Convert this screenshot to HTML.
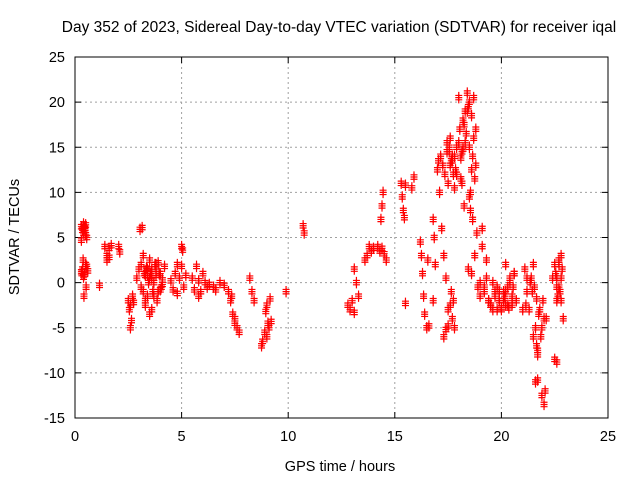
<!DOCTYPE html>
<html><head><meta charset="utf-8"><style>
body{margin:0;background:#fff}
svg{display:block;font-family:"Liberation Sans",sans-serif}
</style></head><body>
<svg id="c" width="640" height="480">
<text x="339" y="32" font-size="15.5" text-anchor="middle">Day 352 of 2023, Sidereal Day-to-day VTEC variation (SDTVAR) for receiver iqal</text>
<text x="340" y="471" font-size="14.5" text-anchor="middle">GPS time / hours</text>
<text transform="translate(19,237) rotate(-90)" font-size="14.5" text-anchor="middle">SDTVAR / TECUs</text>
<g id="grid"></g>
<g id="ticks"></g>
<g id="pts"></g>
<rect x="75" y="57" width="533" height="361" fill="none" stroke="#000" stroke-width="1"/>
</svg>
<script>
const xTicks=[0,5,10,15,20,25];
const yTicks=[-15,-10,-5,0,5,10,15,20,25];
const hours=[0.3,0.35,0.4,0.45,0.5,0.55,0.3,0.4,0.5,0.35,0.45,0.55,0.3,0.4,0.5,0.6,1.15,1.4,1.5,1.6,1.7,1.5,1.6,2.05,2.1,2.5,2.55,2.6,2.65,2.7,2.6,2.75,2.9,3.0,3.1,3.2,3.3,3.4,3.5,3.6,3.7,3.8,3.9,4.0,4.1,4.2,3.1,3.3,3.5,3.7,3.9,4.1,3.2,3.4,3.6,3.8,3.5,3.4,4.5,4.6,4.7,4.8,4.9,5.0,5.1,5.2,4.8,5.0,5.05,5.5,5.6,5.7,5.8,5.9,6.0,6.1,6.2,6.3,5.8,6.5,6.6,6.8,7.0,7.2,7.3,7.4,7.5,7.6,7.7,7.5,7.35,8.2,8.3,8.4,8.8,8.9,9.0,9.1,9.2,8.75,9.05,9.9,10.7,10.75,12.8,12.9,13.0,13.1,13.2,13.3,13.1,13.6,13.7,13.8,13.9,14.0,14.2,14.3,14.4,14.5,14.6,14.35,14.4,14.45,15.3,15.35,15.4,15.5,15.45,15.5,15.8,15.9,16.2,16.25,16.3,16.35,16.4,16.5,16.6,16.8,16.85,16.9,16.8,17.0,17.05,17.1,17.15,17.2,17.25,17.3,17.35,17.4,17.45,17.5,17.55,17.6,17.65,17.7,17.75,17.8,17.5,17.6,17.7,17.8,17.9,18.0,18.05,18.1,18.15,18.2,18.25,18.3,18.35,18.0,18.4,18.45,18.5,18.55,18.6,18.65,18.7,18.75,18.8,18.85,18.5,18.6,18.9,19.0,19.1,19.2,19.3,19.4,19.5,19.6,19.7,19.8,19.9,20.0,20.1,20.2,20.3,20.4,20.5,20.6,20.7,19.6,19.9,20.2,20.5,21.0,21.1,21.2,21.3,21.15,21.2,21.4,21.5,21.6,21.7,21.8,21.6,21.65,21.7,21.85,21.9,22.0,22.05,22.1,21.95,22.4,22.5,22.6,22.7,22.8,22.9,22.6,22.7,22.8,
0.32,0.42,0.52,0.38,0.48,3.05,3.15,3.25,3.35,3.45,3.55,3.65,3.75,3.85,3.95,4.05,3.6,3.8,4.0,3.3,9.0,8.95,9.15,16.55,17.3,17.4,17.5,17.6,17.7,17.8,17.9,17.45,17.55,17.65,17.75,17.85,18.1,18.2,18.3,18.15,18.25,18.4,18.5,18.6,18.7,18.8,18.55,18.65,18.75,18.45,19.0,19.1,19.2,19.3,19.4,19.5,19.7,19.8,19.9,20.0,20.1,20.2,20.3,20.4,20.5,20.6,20.15,20.35,20.55,21.35,21.45,21.55,21.65,21.75,21.5,21.7,21.9,22.0,22.5,22.6,22.65,22.75,22.85,22.55,22.7,22.8,22.6];
const sdtvar=[6.2,5.8,5.5,6.0,6.4,5.0,4.7,6.5,5.3,1.5,0.9,1.8,1.2,0.6,2.0,1.3,-0.3,4.0,3.0,2.8,4.1,2.5,3.8,4.0,3.4,-2.0,-3.0,-5.0,-4.2,-1.5,-2.5,-2.2,0.5,1.5,2.0,-1.0,-2.5,0.8,-3.5,1.5,0.0,2.0,-1.0,1.0,0.3,1.8,-0.5,-2.0,0.5,-1.5,2.2,-0.2,3.0,1.5,-3.0,0.8,2.5,-1.5,0.2,-0.8,1.0,-1.2,0.5,1.8,-0.5,0.8,2.0,4.0,3.6,0.5,-0.8,1.8,0.2,-1.0,1.0,0.0,-0.5,-0.2,-1.5,-0.5,-0.8,0.0,-0.3,-1.0,-2.0,-3.5,-4.5,-5.0,-5.5,-4.0,-1.5,0.5,-1.0,-2.0,-6.5,-5.5,-6.0,-5.0,-4.3,-7.0,-4.5,-1.0,6.3,5.5,-2.5,-3.0,-2.0,1.5,0.0,-1.5,-3.3,2.5,3.0,4.0,3.5,3.8,4.0,3.5,3.8,3.2,2.5,7.0,8.5,10.0,11.0,9.5,8.0,10.8,7.2,-2.3,10.5,11.7,4.5,3.0,1.0,-1.5,-3.5,-5.0,-4.8,7.0,5.0,2.0,-2.0,12.5,13.5,10.0,14.0,6.0,13.0,3.0,12.0,0.5,14.5,11.0,15.0,13.0,-1.0,14.0,-2.0,10.5,-3.0,16.0,-4.0,-5.0,12.0,15.5,17.0,11.5,14.5,18.0,8.5,19.0,16.5,20.5,21.0,19.5,15.0,8.0,12.5,14.0,16.0,11.5,13.0,5.5,9.5,1.0,-0.5,-1.5,4.0,-1.0,0.5,-2.0,-2.5,-3.0,-1.5,-0.5,-2.0,-3.0,-1.0,-2.5,-0.5,0.5,-1.5,1.0,-2.0,0.0,-1.0,2.0,-2.5,-3.0,1.5,0.5,-3.0,-2.5,-1.0,0.5,2.0,-11.0,-10.8,-3.0,-5.0,-7.0,-8.0,-6.0,-12.5,-13.5,-12.0,-4.0,-2.0,0.5,2.0,-8.8,-0.5,-2.0,-4.0,0.5,2.0,3.0,1.0,-1.5,-0.5,2.5,
5.8,5.9,6.1,1.0,1.6,0.0,1.0,-1.0,2.0,-2.0,1.0,-0.5,0.5,1.5,-0.8,0.8,-2.5,-3.2,-1.8,2.5,-6.0,-5.2,-4.8,-2.5,13.5,14.0,15.0,15.5,14.5,13.5,12.0,12.5,13.8,14.8,15.5,11.0,17.5,19.0,20.0,18.5,20.5,17.0,10.0,7.0,3.0,1.5,0.0,6.0,-0.5,2.5,-2.0,-2.5,-1.0,-3.0,-2.0,-2.8,-2.0,-1.0,-2.5,0.0,-2.0,1.0,-1.5,-2.8,-0.5,0.0,-1.0,-0.5,-1.8,-3.5,-6.0,-7.5,-5.0,-4.0,-8.5,-2.0,-1.5,-1.0,1.5,1.0,2.5,0.5,-0.5,2.0,-3.0,-4.5,0.0];
const X0=75,X1=608,Y0=418,Y1=57;
const xs=v=>X0+(v-0)/25*(X1-X0);
const ys=v=>Y0-(v+15)/40*(Y0-Y1);
const NS='http://www.w3.org/2000/svg';
function mk(t,a,p){const e=document.createElementNS(NS,t);for(const k in a)e.setAttribute(k,a[k]);p.appendChild(e);return e;}
const g=document.getElementById('grid'),tk=document.getElementById('ticks'),pts=document.getElementById('pts');
xTicks.forEach(t=>{const x=xs(t);
 if(t>0&&t<25){const l=mk('line',{x1:x,x2:x,y1:Y1,y2:Y0,stroke:'#a0a0a0','stroke-dasharray':'2,3'},g);}
 mk('line',{x1:x,x2:x,y1:Y0,y2:Y0-6,stroke:'#000'},tk);mk('line',{x1:x,x2:x,y1:Y1,y2:Y1+6,stroke:'#000'},tk);
 const tx=mk('text',{x:x,y:Y0+23,'font-size':14.5,'text-anchor':'middle'},tk);tx.textContent=t;
 });
yTicks.forEach(t=>{const y=ys(t);
 if(t>-15&&t<25){const l=mk('line',{x1:X0,x2:X1,y1:y,y2:y,stroke:'#a0a0a0','stroke-dasharray':'2,3'},g);}
 mk('line',{x1:X0,x2:X0+6,y1:y,y2:y,stroke:'#000'},tk);mk('line',{x1:X1,x2:X1-6,y1:y,y2:y,stroke:'#000'},tk);
 const tx=mk('text',{x:X0-10,y:y+5,'font-size':14.5,'text-anchor':'end'},tk);tx.textContent=t;
 });
hours.forEach((h,i)=>{const x=xs(h),y=ys(sdtvar[i]);
 for(let k=-1;k<=1;k++){
  const p=mk('path',{d:`M${x-3.5} ${y+k*2.2}h7M${x} ${y+k*2.2-3.5}v7`,stroke:'#f00','stroke-width':1.2,fill:'none'},pts);
  
  
 }});
</script>
</body></html>
